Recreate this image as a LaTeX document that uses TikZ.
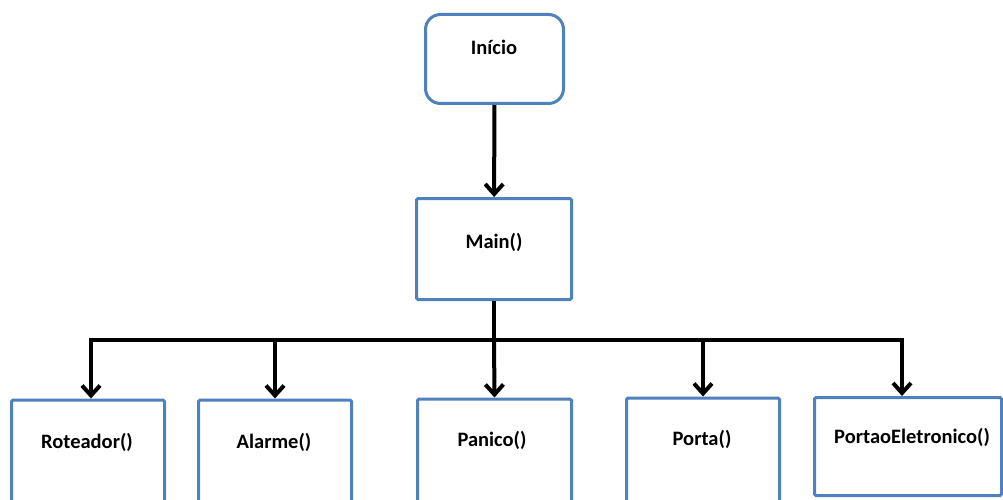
\documentclass[tikz,border=0pt]{standalone}
\usepackage{fontspec}
\setmainfont{Carlito}
\usetikzlibrary{arrows.meta}
\definecolor{boxblue}{HTML}{4F81BD}
\begin{document}
\begin{tikzpicture}[x=1pt,y=-1pt,
  box/.style={draw=boxblue, line width=3pt, fill=white, rounded corners=1.5pt,
    inner sep=0pt, minimum width=153pt},
  lbl/.style={font=\fontsize{20.5}{24}\selectfont\bfseries, inner sep=0pt},
  wire/.style={line width=4pt, draw=black},
  arr/.style={wire, -{Straight Barb[length=10pt,width=18pt]}}]
\useasboundingbox (0,0) rectangle (1003,500);
\clip (0,0) rectangle (1003,500);

% top level
\node[box, rounded corners=15pt, minimum width=138pt, minimum height=89pt] (inicio) at (494.5,59) {};
\node[box, minimum width=155pt, minimum height=101pt] (main) at (494,249) {};

% called routines (boxes run past the lower edge)
\node[box, minimum height=140pt] (rot) at (88,470) {};
\node[box, minimum height=140pt] (ala) at (275,470) {};
\node[box, minimum width=154pt, minimum height=140pt] (pan) at (494.5,469) {};
\node[box, minimum height=140pt] (por) at (703,468) {};
\node[box, minimum width=187pt, minimum height=98pt] (ptn) at (908,446.5) {};

% labels
\node[lbl] (t-inicio) at (494,47) {Início};
\node[lbl] (t-main) at (494,242) {Main()};
\node[lbl] (t-rot) at (87,442) {Roteador()};
\node[lbl] (t-ala) at (274,442) {Alarme()};
\node[lbl] (t-pan) at (492,440) {Panico()};
\node[lbl] (t-por) at (702,439) {Porta()};
\node[lbl] (t-ptn) at (912,437) {PortaoEletronico()};

% connectors
\coordinate (bus) at (494,340);
\draw[arr] (inicio) -- (main);
\draw[wire] (main.south) -- (bus);
\draw[arr] (bus) -| ([xshift=3pt]rot.north);
\draw[arr] (bus) -| (ala.north);
\draw[arr] (bus) -- (pan.north);
\draw[arr] (bus) -| (por.north);
\draw[arr] (bus) -| ([xshift=-6pt]ptn.north);
\end{tikzpicture}
\end{document}
